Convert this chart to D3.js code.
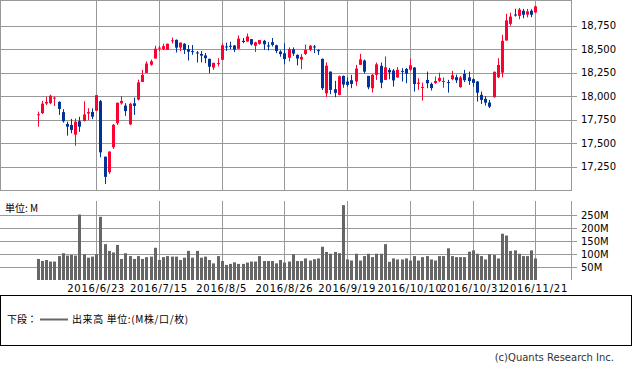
<!DOCTYPE html>
<html lang="ja">
<head>
<meta charset="utf-8">
<title>Candlestick with volume</title>
<style type="text/css">
	body { margin: 0; background-color: white; }
	svg { display: block; }
	.grid line { stroke: #999; stroke-width: 1px; shape-rendering: crispEdges; }
	.frame { fill: none; stroke: #999; stroke-width: 1px; shape-rendering: crispEdges; }
	.lbl { font-family: "DejaVu Sans", Verdana, sans-serif; font-size: 10px; fill: #000; }
	.jp { font-family: "Noto Sans CJK JP", sans-serif; font-size: 10px; fill: #000; }
</style>
</head>
<body>
<script src="https://cdnjs.cloudflare.com/ajax/libs/d3/7.8.5/d3.min.js"></script>
<script type="text/javascript">

var dates = [
	"2016/6/3","2016/6/6","2016/6/7","2016/6/8","2016/6/9","2016/6/10","2016/6/13","2016/6/14","2016/6/15","2016/6/16",
	"2016/6/17","2016/6/20","2016/6/21","2016/6/22","2016/6/23","2016/6/24","2016/6/27","2016/6/28","2016/6/29","2016/6/30",
	"2016/7/1","2016/7/5","2016/7/6","2016/7/7","2016/7/8","2016/7/11","2016/7/12","2016/7/13","2016/7/14","2016/7/15",
	"2016/7/18","2016/7/19","2016/7/20","2016/7/21","2016/7/22","2016/7/25","2016/7/26","2016/7/27","2016/7/28","2016/7/29",
	"2016/8/1","2016/8/2","2016/8/3","2016/8/4","2016/8/5","2016/8/8","2016/8/9","2016/8/10","2016/8/11","2016/8/12",
	"2016/8/15","2016/8/16","2016/8/17","2016/8/18","2016/8/19","2016/8/22","2016/8/23","2016/8/24","2016/8/25","2016/8/26",
	"2016/8/29","2016/8/30","2016/8/31","2016/9/1","2016/9/2","2016/9/6","2016/9/7","2016/9/8","2016/9/9","2016/9/12",
	"2016/9/13","2016/9/14","2016/9/15","2016/9/16","2016/9/19","2016/9/20","2016/9/21","2016/9/22","2016/9/23","2016/9/26",
	"2016/9/27","2016/9/28","2016/9/29","2016/9/30","2016/10/3","2016/10/4","2016/10/5","2016/10/6","2016/10/7","2016/10/10",
	"2016/10/11","2016/10/12","2016/10/13","2016/10/14","2016/10/17","2016/10/18","2016/10/19","2016/10/20","2016/10/21","2016/10/24",
	"2016/10/25","2016/10/26","2016/10/27","2016/10/28","2016/10/31","2016/11/1","2016/11/2","2016/11/3","2016/11/4","2016/11/7",
	"2016/11/8","2016/11/9","2016/11/10","2016/11/11","2016/11/14","2016/11/15","2016/11/16","2016/11/17","2016/11/18","2016/11/21"
];

var opens = [
	17799,17818,17922,17925,17978,17939,17830,17704,17693,17590,
	17733,17736,17815,17832,17845,17946,17355,17190,17456,17712,
	17924,17900,17700,17924,17964,18152,18248,18335,18401,18508,
	18503,18494,18585,18600,18518,18558,18502,18480,18466,18450,
	18434,18398,18305,18345,18388,18530,18537,18540,18505,18590,
	18582,18608,18537,18558,18590,18540,18575,18543,18476,18457,
	18410,18500,18440,18390,18450,18494,18530,18490,18398,18030,
	18262,18074,18014,18216,18156,18170,18156,18334,18380,18216,
	18085,18227,18323,18173,18280,18273,18199,18270,18290,18282,
	18305,18131,18088,18173,18131,18140,18163,18160,18150,18181,
	18202,18096,18237,18200,18181,18156,18014,17971,17932,17989,
	18202,18251,18593,18771,18870,18856,18910,18870,18910,18892
];

var highs = [
	17835,17950,17995,18016,17995,17945,17861,17729,17758,17762,
	17780,17946,17872,17870,18011,17960,17356,17410,17704,17930,
	18002,17925,17930,17985,18176,18280,18371,18390,18537,18537,
	18560,18560,18625,18605,18571,18565,18545,18545,18480,18480,
	18460,18400,18355,18405,18560,18570,18580,18545,18647,18620,
	18668,18610,18580,18600,18600,18575,18620,18548,18490,18563,
	18520,18520,18445,18450,18550,18545,18545,18500,18400,18360,
	18262,18163,18220,18220,18200,18227,18334,18451,18390,18216,
	18235,18358,18358,18423,18300,18290,18310,18298,18300,18399,
	18310,18192,18145,18262,18145,18210,18250,18200,18174,18270,
	18230,18215,18280,18262,18190,18160,18049,18000,17960,18262,
	18405,18654,18878,18890,18931,18940,18930,18930,18927,18965
];

var lows = [
	17675,17810,17905,17915,17896,17800,17718,17580,17605,17471,
	17620,17730,17747,17755,17844,17349,17063,17171,17437,17693,
	17910,17790,17690,17800,17955,18150,18245,18325,18401,18480,
	18490,18494,18561,18465,18480,18450,18380,18441,18358,18360,
	18352,18245,18280,18316,18388,18483,18500,18470,18505,18565,
	18580,18540,18470,18550,18494,18487,18530,18459,18420,18339,
	18370,18430,18327,18288,18440,18480,18459,18440,18066,17990,
	18021,17989,18010,18090,18100,18085,18110,18334,18240,18074,
	18038,18173,18085,18173,18180,18102,18199,18156,18138,18270,
	18049,18067,17953,18085,18060,18130,18150,18090,18038,18170,
	18140,18090,18150,18120,18100,17942,17918,17900,17872,17985,
	18192,18200,18593,18750,18849,18820,18830,18840,18842,18890
];

var closes = [
	17807,17920,17938,18005,17985,17865,17732,17675,17640,17728,
	17675,17805,17830,17781,18011,17401,17140,17410,17695,17930,
	17949,17841,17919,17896,18147,18227,18348,18372,18506,18517,
	18533,18559,18595,18517,18571,18493,18474,18472,18456,18432,
	18405,18314,18355,18352,18543,18529,18533,18496,18613,18577,
	18636,18552,18574,18598,18553,18529,18547,18481,18448,18395,
	18503,18454,18401,18419,18492,18538,18526,18480,18085,18325,
	18067,18035,18212,18124,18120,18130,18294,18392,18261,18095,
	18228,18339,18143,18308,18254,18168,18281,18268,18240,18329,
	18129,18144,18099,18138,18086,18162,18195,18162,18146,18223,
	18169,18199,18170,18161,18142,18037,17960,17931,17888,18260,
	18333,18590,18808,18848,18869,18923,18868,18904,18868,18957
];

// 出来高 (M)
var volumes = [
	81,73,77,71,71,92,103,94,97,94,
	252,99,86,90,99,243,138,112,106,135,
	81,103,92,81,92,81,88,90,124,77,
	88,92,90,90,77,86,112,86,112,86,
	90,77,64,92,73,58,62,68,62,62,
	67,71,71,92,73,73,73,64,77,67,
	71,99,73,73,83,75,80,83,128,108,
	101,108,103,288,79,75,101,75,92,101,
	88,101,101,138,70,83,79,79,83,75,
	92,75,88,92,79,75,92,92,122,92,
	88,88,88,109,114,101,92,79,99,96,
	83,178,171,112,114,101,92,92,114,83
];

var tickLabels = ["2016/6/23","2016/7/15","2016/8/5","2016/8/26","2016/9/19","2016/10/10","2016/10/31","2016/11/21"];
var priceTicks = [17250, 17500, 17750, 18000, 18250, 18500, 18750];
var volTicks = [50, 100, 150, 200, 250];

var width = 633, height = 368;
var plotRight = 571;
var upColor = "#ff0033", downColor = "#003399";

var svg = d3.select("body").append("svg")
	.attr("width", width)
	.attr("height", height);

var xScale = d3.scaleLinear().domain([-9, 127.5]).range([0, plotRight]);
var yScale = d3.scaleLinear().domain([17000, 19025]).range([190, 0]);
var vScale = d3.scaleLinear().domain([0, 304]).range([280, 201]);

var tickIdx = tickLabels.map(function(t) { return dates.indexOf(t); });

function px(v) { return Math.round(v) + 0.5; }

// ---- upper panel ----
var upper = svg.append("g");
var grid = upper.append("g").attr("class", "grid");

grid.selectAll("line.h")
	.data(priceTicks)
	.enter().append("line")
	.attr("x1", 0).attr("x2", plotRight + 6)
	.attr("y1", function(d) { return px(yScale(d)); })
	.attr("y2", function(d) { return px(yScale(d)); });

grid.selectAll("line.v")
	.data(tickIdx)
	.enter().append("line")
	.attr("x1", function(d) { return px(xScale(d)); })
	.attr("x2", function(d) { return px(xScale(d)); })
	.attr("y1", 0).attr("y2", 190);

upper.append("rect").attr("class", "frame")
	.attr("x", 0.5).attr("y", 0.5)
	.attr("width", plotRight).attr("height", 190);

upper.selectAll("text.price")
	.data(priceTicks)
	.enter().append("text")
	.attr("class", "lbl")
	.attr("x", 581)
	.attr("y", function(d) { return yScale(d); })
	.attr("dy", "0.36em")
	.text(function(d) { return d3.format(",")(d); });

var candles = upper.selectAll("g.candle")
	.data(d3.range(dates.length))
	.enter().append("g");

candles.append("line")
	.attr("x1", function(i) { return px(xScale(i)); })
	.attr("x2", function(i) { return px(xScale(i)); })
	.attr("y1", function(i) { return yScale(highs[i]); })
	.attr("y2", function(i) { return yScale(lows[i]); })
	.attr("stroke", function(i) { return closes[i] >= opens[i] ? upColor : downColor; })
	.attr("stroke-width", 1);

candles.append("rect")
	.attr("x", function(i) { return Math.round(xScale(i)) - 1; })
	.attr("width", 3)
	.attr("y", function(i) { return yScale(Math.max(opens[i], closes[i])); })
	.attr("height", function(i) {
		return Math.max(1, Math.abs(yScale(opens[i]) - yScale(closes[i])));
	})
	.attr("fill", function(i) { return closes[i] >= opens[i] ? upColor : downColor; });

// ---- volume panel ----
var vol = svg.append("g");
var vgrid = vol.append("g").attr("class", "grid");

vgrid.selectAll("line.h")
	.data(volTicks)
	.enter().append("line")
	.attr("x1", 0).attr("x2", plotRight + 6)
	.attr("y1", function(d) { return px(vScale(d)); })
	.attr("y2", function(d) { return px(vScale(d)); });

vgrid.selectAll("line.v")
	.data(tickIdx)
	.enter().append("line")
	.attr("x1", function(d) { return px(xScale(d)); })
	.attr("x2", function(d) { return px(xScale(d)); })
	.attr("y1", 201).attr("y2", 280);

vgrid.append("line")
	.attr("x1", px(plotRight)).attr("x2", px(plotRight))
	.attr("y1", 201).attr("y2", 280);

vol.selectAll("rect.vol")
	.data(volumes)
	.enter().append("rect")
	.attr("x", function(d, i) { return Math.round(xScale(i)) - 1; })
	.attr("width", 3)
	.attr("y", function(d) { return vScale(d); })
	.attr("height", function(d) { return vScale(0) - vScale(d); })
	.attr("fill", "#666");

vol.selectAll("text.vol")
	.data(volTicks)
	.enter().append("text")
	.attr("class", "lbl")
	.attr("x", 581)
	.attr("y", function(d) { return vScale(d); })
	.attr("dy", "0.36em")
	.text(function(d) { return d + "M"; });

vol.append("text").attr("class", "jp")
	.attr("x", 5).attr("y", 212)
	.text("単位: M");

svg.selectAll("text.date")
	.data(tickIdx)
	.enter().append("text")
	.attr("class", "lbl")
	.attr("x", function(d) { return xScale(d); })
	.attr("y", 292)
	.attr("text-anchor", "middle")
	.style("letter-spacing", "0.75px")
	.text(function(d) { return dates[d]; });

// ---- legend ----
svg.append("rect")
	.attr("x", 0.5).attr("y", 295.5)
	.attr("width", 631).attr("height", 50)
	.attr("fill", "none").attr("stroke", "#000");

svg.append("text").attr("class", "jp")
	.attr("x", 7).attr("y", 323)
	.text("下段：");

svg.append("line")
	.attr("x1", 40).attr("x2", 68)
	.attr("y1", 319.5).attr("y2", 319.5)
	.attr("stroke", "#666").attr("stroke-width", 2);

svg.append("text").attr("class", "jp")
	.attr("x", 72).attr("y", 323)
	.style("letter-spacing", "0.6px")
	.text("出来高 単位:(M株/口/枚)");

svg.append("text").attr("class", "lbl")
	.attr("x", 614).attr("y", 361)
	.attr("text-anchor", "end")
	.style("fill", "#333")
	.text("(c)Quants Research Inc.");

</script>
</body>
</html>
